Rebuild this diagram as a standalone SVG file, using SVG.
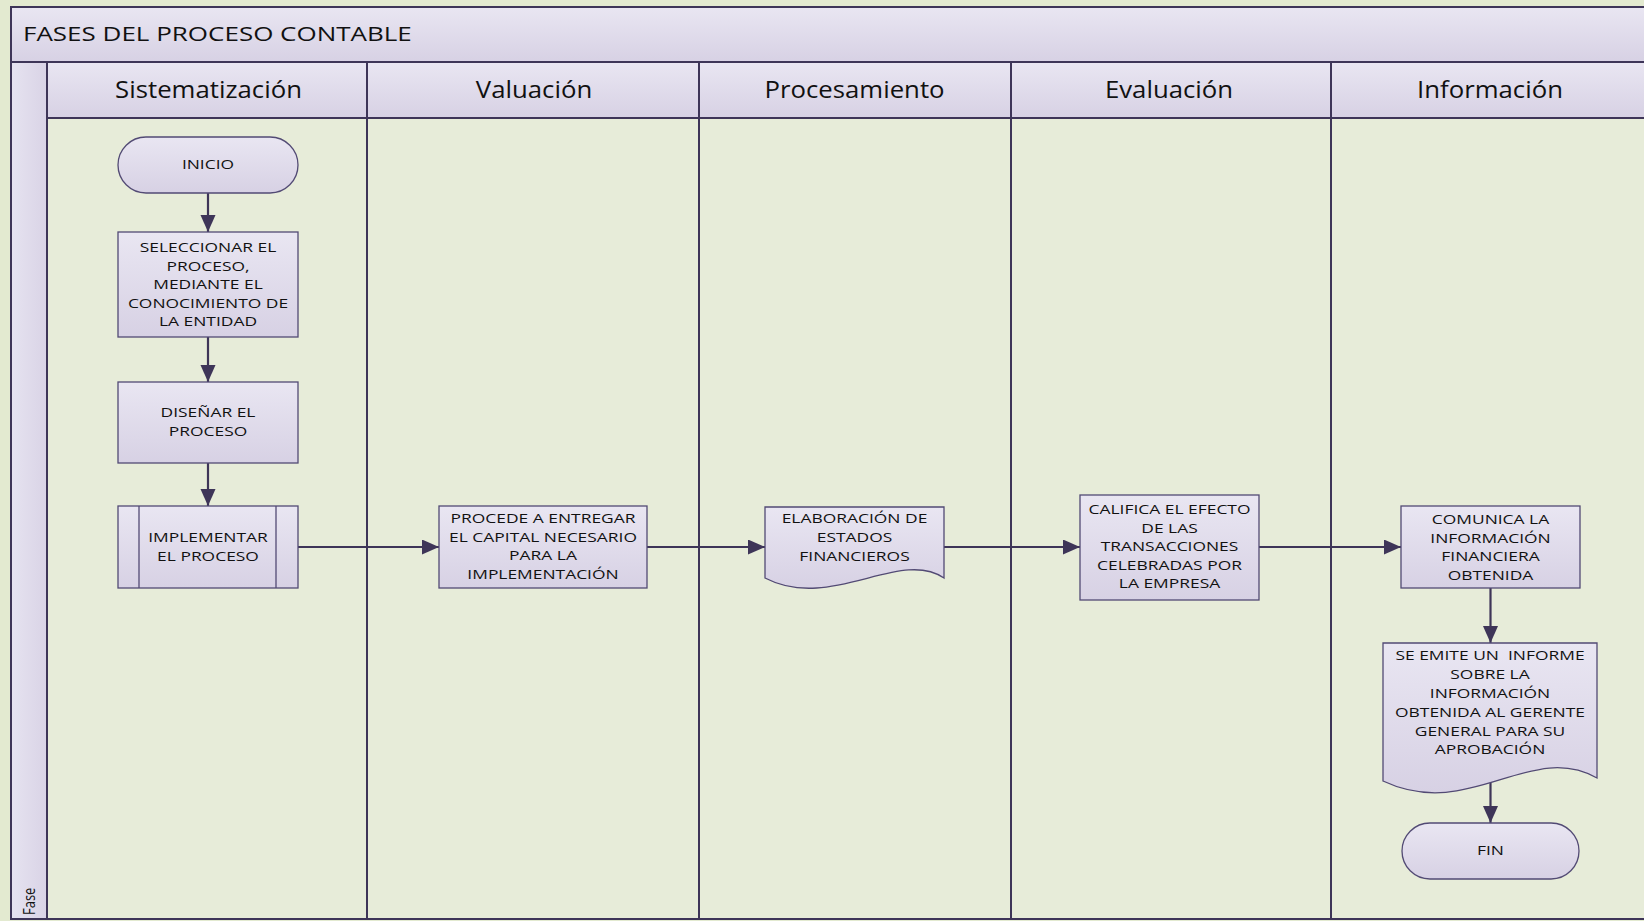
<svg xmlns="http://www.w3.org/2000/svg" width="1644" height="921" viewBox="0 0 1644 921">
  <defs>
    <linearGradient id="lav" x1="0" y1="0" x2="0" y2="1">
      <stop offset="0" stop-color="#E9E6F2"/>
      <stop offset="1" stop-color="#D7D1E4"/>
    </linearGradient>
    <linearGradient id="lavH" x1="0" y1="0" x2="1" y2="0">
      <stop offset="0" stop-color="#E6E3F0"/>
      <stop offset="1" stop-color="#D9D3E6"/>
    </linearGradient>
    <marker id="arr" markerUnits="userSpaceOnUse" markerWidth="18" markerHeight="16" refX="17" refY="7.5" orient="auto">
      <path d="M0,0 L17,7.5 L0,15 Z" fill="#3E3558"/>
    </marker>
    <style>
      .frame { fill: none; stroke: #3E3558; stroke-width: 2; }
      .band { fill: url(#lav); }
      .lane { fill: #E7ECD9; }
      .node { fill: url(#lav); stroke: #524A74; stroke-width: 1.3; }
      .edge { fill: none; stroke: #3E3558; stroke-width: 2.2; marker-end: url(#arr); }
      text { font-family: "Open Sans", "DejaVu Sans", sans-serif; fill: #111111; text-anchor: middle; }
      .nt { font-size: 13px; font-weight: 500; }
      .hd { font-size: 23px; font-weight: 500; }
      .title { font-size: 20px; font-weight: 500; text-anchor: start; }
      .side { font-size: 13px; text-anchor: start; }
    </style>
  </defs>

  <!-- page background -->
  <rect x="0" y="0" width="1644" height="921" fill="#E3EAD0"/>

  <!-- swimlane frame -->
  <g id="pool">
    <rect class="lane" x="47" y="118" width="1610" height="801"/>
    <rect class="band" x="11" y="7" width="1646" height="55"/>
    <rect class="band" x="47" y="62" width="1610" height="56"/>
    <rect x="11" y="62" width="36" height="857" fill="url(#lavH)"/>
    <rect class="frame" x="11" y="7" width="1646" height="912"/>
    <line class="frame" x1="11" y1="62" x2="1644" y2="62"/>
    <line class="frame" x1="47" y1="118" x2="1644" y2="118"/>
    <line class="frame" x1="47" y1="62" x2="47" y2="919"/>
    <line class="frame" x1="367" y1="62" x2="367" y2="919"/>
    <line class="frame" x1="699" y1="62" x2="699" y2="919"/>
    <line class="frame" x1="1011" y1="62" x2="1011" y2="919"/>
    <line class="frame" x1="1331" y1="62" x2="1331" y2="919"/>
    <text class="title" transform="translate(23 40.7) scale(1.3 1)" x="0" y="0">FASES DEL PROCESO CONTABLE</text>
    <text class="side" transform="translate(34.5 915) scale(1.3 1) rotate(-90)" x="0" y="0">Fase</text>
    <text class="hd" transform="translate(208.5 97.5) scale(1.12 1)" x="0" y="0">Sistematización</text>
    <text class="hd" transform="translate(534 97.5) scale(1.12 1)" x="0" y="0">Valuación</text>
    <text class="hd" transform="translate(854.5 97.5) scale(1.12 1)" x="0" y="0">Procesamiento</text>
    <text class="hd" transform="translate(1169 97.5) scale(1.12 1)" x="0" y="0">Evaluación</text>
    <text class="hd" transform="translate(1490 97.5) scale(1.12 1)" x="0" y="0">Información</text>
  </g>

  <!-- connectors -->
  <g id="connectors">
    <line class="edge" x1="208" y1="193" x2="208" y2="232"/>
    <line class="edge" x1="208" y1="337" x2="208" y2="382"/>
    <line class="edge" x1="208" y1="463" x2="208" y2="506"/>
    <line class="edge" x1="298" y1="547" x2="439" y2="547"/>
    <line class="edge" x1="647" y1="547" x2="765" y2="547"/>
    <line class="edge" x1="944" y1="547" x2="1080" y2="547"/>
    <line class="edge" x1="1259" y1="547" x2="1401" y2="547"/>
    <line class="edge" x1="1490.5" y1="588" x2="1490.5" y2="643"/>
    <line class="edge" x1="1490.5" y1="783" x2="1490.5" y2="823"/>
  </g>

  <!-- nodes (tspans kept adjacent so no stray spaces shift the centring) -->
  <g id="inicio">
    <rect class="node" x="118" y="137" width="180" height="56" rx="28" ry="28"/>
    <text class="nt" transform="translate(208 0) scale(1.34 1)"><tspan x="0" y="169.4">INICIO</tspan></text>
  </g>

  <g id="seleccionar">
    <rect class="node" x="118" y="232" width="180" height="105"/>
    <text class="nt" transform="translate(208 0) scale(1.34 1)"><tspan x="0" y="252">SELECCIONAR EL</tspan><tspan x="0" y="270.6">PROCESO,</tspan><tspan x="0" y="289.2">MEDIANTE EL</tspan><tspan x="0" y="307.8">CONOCIMIENTO DE</tspan><tspan x="0" y="326.4">LA ENTIDAD</tspan></text>
  </g>

  <g id="disenar">
    <rect class="node" x="118" y="382" width="180" height="81"/>
    <text class="nt" transform="translate(208 0) scale(1.34 1)"><tspan x="0" y="417.5">DISEÑAR EL</tspan><tspan x="0" y="436.1">PROCESO</tspan></text>
  </g>

  <g id="implementar">
    <rect class="node" x="118" y="506" width="180" height="82"/>
    <line x1="139" y1="506" x2="139" y2="588" stroke="#524A74" stroke-width="1.3"/>
    <line x1="276" y1="506" x2="276" y2="588" stroke="#524A74" stroke-width="1.3"/>
    <text class="nt" transform="translate(208 0) scale(1.34 1)"><tspan x="0" y="542">IMPLEMENTAR</tspan><tspan x="0" y="560.6">EL PROCESO</tspan></text>
  </g>

  <g id="procede">
    <rect class="node" x="439" y="506" width="208" height="82"/>
    <text class="nt" transform="translate(543 0) scale(1.34 1)"><tspan x="0" y="523.2">PROCEDE A ENTREGAR</tspan><tspan x="0" y="541.8">EL CAPITAL NECESARIO</tspan><tspan x="0" y="560.4">PARA LA</tspan><tspan x="0" y="579">IMPLEMENTACIÓN</tspan></text>
  </g>

  <g id="elaboracion">
    <path class="node" d="M765,507 H944 V578 C900,548 830,612 765,578 Z"/>
    <text class="nt" transform="translate(854.5 0) scale(1.34 1)"><tspan x="0" y="523.5">ELABORACIÓN DE</tspan><tspan x="0" y="542.1">ESTADOS</tspan><tspan x="0" y="560.7">FINANCIEROS</tspan></text>
  </g>

  <g id="califica">
    <rect class="node" x="1080" y="495" width="179" height="105"/>
    <text class="nt" transform="translate(1169.5 0) scale(1.34 1)"><tspan x="0" y="514">CALIFICA EL EFECTO</tspan><tspan x="0" y="532.6">DE LAS</tspan><tspan x="0" y="551.2">TRANSACCIONES</tspan><tspan x="0" y="569.8">CELEBRADAS POR</tspan><tspan x="0" y="588.4">LA EMPRESA</tspan></text>
  </g>

  <g id="comunica">
    <rect class="node" x="1401" y="506" width="179" height="82"/>
    <text class="nt" transform="translate(1490.5 0) scale(1.34 1)"><tspan x="0" y="524.2">COMUNICA LA</tspan><tspan x="0" y="542.8">INFORMACIÓN</tspan><tspan x="0" y="561.4">FINANCIERA</tspan><tspan x="0" y="580">OBTENIDA</tspan></text>
  </g>

  <g id="informe">
    <path class="node" d="M1383,643 H1597 V778 C1530,740 1470,822 1383,781 Z"/>
    <text class="nt" transform="translate(1490 0) scale(1.34 1)"><tspan x="0" y="660.5">SE EMITE UN&#160; INFORME</tspan><tspan x="0" y="679.3">SOBRE LA</tspan><tspan x="0" y="698.1">INFORMACIÓN</tspan><tspan x="0" y="716.9">OBTENIDA AL GERENTE</tspan><tspan x="0" y="735.7">GENERAL PARA SU</tspan><tspan x="0" y="754.5">APROBACIÓN</tspan></text>
  </g>

  <g id="fin">
    <rect class="node" x="1402" y="823" width="177" height="56" rx="28" ry="28"/>
    <text class="nt" transform="translate(1490.5 0) scale(1.34 1)"><tspan x="0" y="855.5">FIN</tspan></text>
  </g>
</svg>
